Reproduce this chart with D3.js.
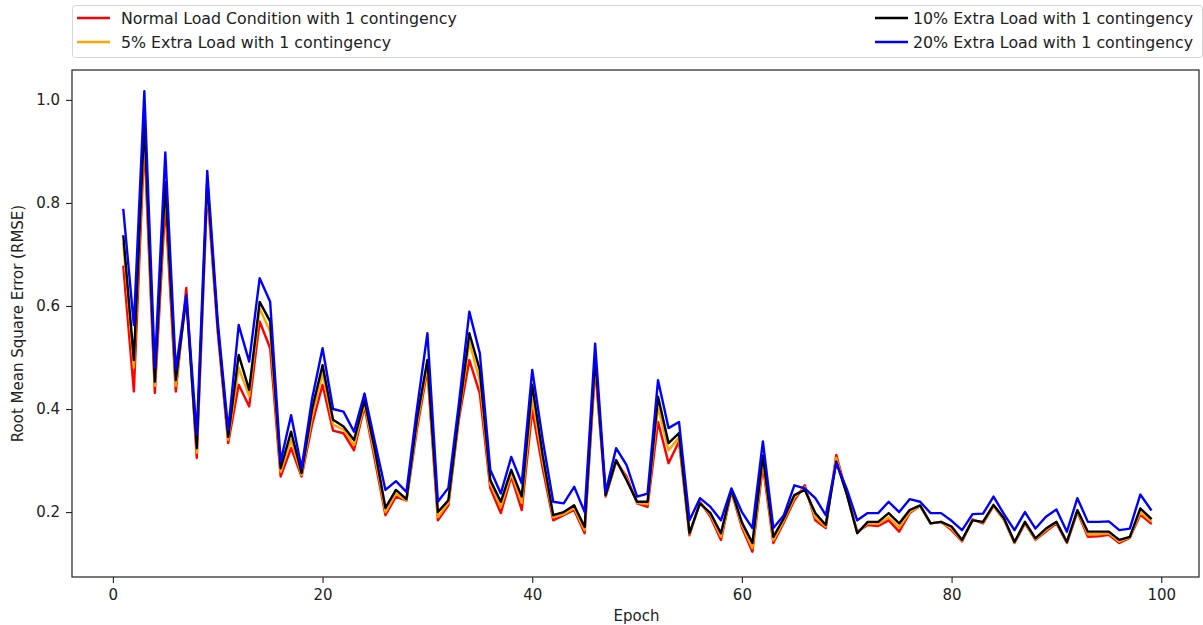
<!DOCTYPE html>
<html>
<head>
<meta charset="utf-8">
<script src="https://cdn.jsdelivr.net/npm/d3@7/dist/d3.min.js"></script>
<style>
  html, body { margin: 0; padding: 0; background: #fff; }
  svg { display: block; }
  text { font-family: "DejaVu Sans", sans-serif; fill: #222; }
</style>
</head>
<body>
<svg id="chart" width="1203" height="625"></svg>
<script>
// Epochs 1..99
const epochs = d3.range(1, 100);

// RMSE per epoch for each load scenario
const normalLoad = [
  0.676, 0.434, 0.920, 0.431, 0.800, 0.434, 0.635, 0.305, 0.825, 0.550,
  0.334, 0.447, 0.405, 0.570, 0.518, 0.269, 0.324, 0.269, 0.370, 0.447,
  0.358, 0.353, 0.320, 0.405, 0.300, 0.194, 0.230, 0.222, 0.360, 0.476,
  0.184, 0.213, 0.380, 0.495, 0.430, 0.246, 0.198, 0.269, 0.204, 0.398,
  0.285, 0.184, 0.194, 0.204, 0.159, 0.480, 0.230, 0.298, 0.269, 0.217,
  0.210, 0.375, 0.295, 0.337, 0.155, 0.220, 0.191, 0.146, 0.240, 0.170,
  0.123, 0.290, 0.140, 0.180, 0.223, 0.252, 0.184, 0.169, 0.311, 0.235,
  0.162, 0.175, 0.173, 0.184, 0.162, 0.198, 0.212, 0.178, 0.181, 0.165,
  0.143, 0.186, 0.178, 0.212, 0.185, 0.140, 0.178, 0.146, 0.162, 0.178,
  0.140, 0.200, 0.152, 0.153, 0.156, 0.140, 0.150, 0.195, 0.178
];
const extra5 = [
  0.720, 0.480, 0.940, 0.445, 0.830, 0.445, 0.618, 0.315, 0.835, 0.555,
  0.340, 0.480, 0.425, 0.595, 0.550, 0.278, 0.340, 0.272, 0.385, 0.470,
  0.370, 0.360, 0.330, 0.410, 0.310, 0.200, 0.236, 0.222, 0.370, 0.485,
  0.190, 0.218, 0.385, 0.530, 0.455, 0.255, 0.210, 0.275, 0.218, 0.420,
  0.300, 0.190, 0.196, 0.208, 0.165, 0.490, 0.232, 0.300, 0.265, 0.218,
  0.215, 0.405, 0.320, 0.345, 0.157, 0.218, 0.195, 0.152, 0.242, 0.175,
  0.130, 0.300, 0.145, 0.184, 0.228, 0.248, 0.190, 0.172, 0.305, 0.235,
  0.160, 0.178, 0.177, 0.190, 0.170, 0.200, 0.212, 0.178, 0.181, 0.168,
  0.144, 0.185, 0.180, 0.213, 0.186, 0.141, 0.180, 0.147, 0.165, 0.180,
  0.141, 0.202, 0.157, 0.157, 0.159, 0.143, 0.151, 0.200, 0.183
];
const extra10 = [
  0.735, 0.495, 0.960, 0.453, 0.840, 0.456, 0.615, 0.324, 0.845, 0.560,
  0.346, 0.505, 0.437, 0.608, 0.570, 0.285, 0.356, 0.276, 0.400, 0.485,
  0.379, 0.366, 0.340, 0.417, 0.320, 0.208, 0.243, 0.225, 0.380, 0.495,
  0.200, 0.223, 0.390, 0.547, 0.476, 0.262, 0.220, 0.282, 0.230, 0.447,
  0.310, 0.194, 0.200, 0.213, 0.171, 0.500, 0.233, 0.301, 0.262, 0.220,
  0.220, 0.424, 0.334, 0.353, 0.159, 0.217, 0.198, 0.159, 0.243, 0.180,
  0.140, 0.310, 0.152, 0.188, 0.233, 0.243, 0.198, 0.175, 0.298, 0.235,
  0.159, 0.181, 0.181, 0.198, 0.178, 0.204, 0.213, 0.178, 0.181, 0.172,
  0.146, 0.184, 0.181, 0.214, 0.188, 0.142, 0.181, 0.149, 0.168, 0.181,
  0.142, 0.204, 0.162, 0.162, 0.162, 0.146, 0.152, 0.207, 0.188
];
const extra20 = [
  0.786, 0.563, 1.017, 0.480, 0.898, 0.476, 0.621, 0.350, 0.862, 0.570,
  0.359, 0.563, 0.492, 0.654, 0.608, 0.298, 0.388, 0.285, 0.420, 0.518,
  0.400, 0.395, 0.356, 0.430, 0.335, 0.243, 0.260, 0.239, 0.400, 0.547,
  0.220, 0.247, 0.410, 0.589, 0.508, 0.282, 0.236, 0.307, 0.256, 0.476,
  0.340, 0.220, 0.217, 0.249, 0.200, 0.527, 0.239, 0.324, 0.291, 0.230,
  0.236, 0.456, 0.363, 0.375, 0.184, 0.227, 0.210, 0.184, 0.246, 0.200,
  0.169, 0.337, 0.169, 0.194, 0.252, 0.246, 0.227, 0.194, 0.295, 0.245,
  0.184, 0.198, 0.198, 0.220, 0.200, 0.225, 0.220, 0.198, 0.198, 0.183,
  0.165, 0.196, 0.197, 0.230, 0.196, 0.165, 0.200, 0.168, 0.191, 0.205,
  0.162, 0.227, 0.181, 0.181, 0.182, 0.165, 0.168, 0.234, 0.205
];

const seriesNames = [
  "Normal Load Condition with 1 contingency",
  "5% Extra Load with 1 contingency",
  "10% Extra Load with 1 contingency",
  "20% Extra Load with 1 contingency"
];
const seriesColors = ["#ff0000", "#ffa500", "#000000", "#0000ff"];
const seriesValues = [normalLoad, extra5, extra10, extra20];

const xTicks = [0, 20, 40, 60, 80, 100];
const yTicks = [0.2, 0.4, 0.6, 0.8, 1.0];

const xLabel = "Epoch";
const yLabel = "Root Mean Square Error (RMSE)";

// Plot area
const plot = { left: 72, right: 1199, top: 70, bottom: 577 };

const svg = d3.select("#chart");

const x = d3.scaleLinear().domain([-3.9, 103.6]).range([plot.left, plot.right]);
const y = d3.scaleLinear().domain([0.074, 1.058]).range([plot.bottom, plot.top]);

// Lines (drawn in legend order, last on top)
const line = d3.line()
  .x((d, i) => x(epochs[i]))
  .y(d => y(d));

const lineG = svg.append("g");
seriesValues.forEach((vals, k) => {
  lineG.append("path")
    .datum(vals)
    .attr("fill", "none")
    .attr("stroke", seriesColors[k])
    .attr("stroke-width", 2.4)
    .attr("stroke-linejoin", "round")
    .attr("stroke-linecap", "square")
    .attr("d", line);
});

// Axes
const fontSize = 15;
const legendFontSize = 15.8;
const xAxis = d3.axisBottom(x).tickValues(xTicks).tickFormat(d3.format("d")).tickSizeOuter(0).tickSize(6).tickPadding(6);
const yAxis = d3.axisLeft(y).tickValues(yTicks).tickFormat(d3.format(".1f")).tickSizeOuter(0).tickSize(6).tickPadding(6);

const gx = svg.append("g").attr("transform", `translate(0,${plot.bottom})`).call(xAxis);
const gy = svg.append("g").attr("transform", `translate(${plot.left},0)`).call(yAxis);
[gx, gy].forEach(g => {
  g.select(".domain").remove();
  g.selectAll(".tick line").attr("stroke", "#222").attr("stroke-width", 1.1);
  g.selectAll(".tick text").attr("font-size", fontSize).attr("font-family", "DejaVu Sans").attr("fill", "#222");
});

// Frame
svg.append("rect")
  .attr("x", plot.left).attr("y", plot.top)
  .attr("width", plot.right - plot.left).attr("height", plot.bottom - plot.top)
  .attr("fill", "none").attr("stroke", "#222").attr("stroke-width", 1.2);

// Axis titles
svg.append("text")
  .attr("x", (plot.left + plot.right) / 2 + 1).attr("y", 621)
  .attr("text-anchor", "middle").attr("font-size", fontSize)
  .text(xLabel);

svg.append("text")
  .attr("transform", `translate(23,${(plot.top + plot.bottom) / 2}) rotate(-90)`)
  .attr("text-anchor", "middle").attr("font-size", fontSize)
  .text(yLabel);

// Legend
const legend = svg.append("g");
legend.append("rect")
  .attr("x", 72.5).attr("y", 5.5).attr("width", 1130).attr("height", 52)
  .attr("rx", 3).attr("fill", "#fff").attr("stroke", "#d6d6d6").attr("stroke-width", 1);

const legendPos = [
  { sx: 77, tx: 121, y: 18 },
  { sx: 77, tx: 121, y: 42 },
  { sx: 875, tx: 913, y: 18 },
  { sx: 875, tx: 913, y: 42 }
];
seriesNames.forEach((name, k) => {
  const p = legendPos[k];
  legend.append("line")
    .attr("x1", p.sx).attr("x2", p.sx + 33)
    .attr("y1", p.y).attr("y2", p.y)
    .attr("stroke", seriesColors[k]).attr("stroke-width", 2.4);
  legend.append("text")
    .attr("x", p.tx).attr("y", p.y + 5.5)
    .attr("font-size", legendFontSize)
    .text(name);
});
</script>
</body>
</html>
